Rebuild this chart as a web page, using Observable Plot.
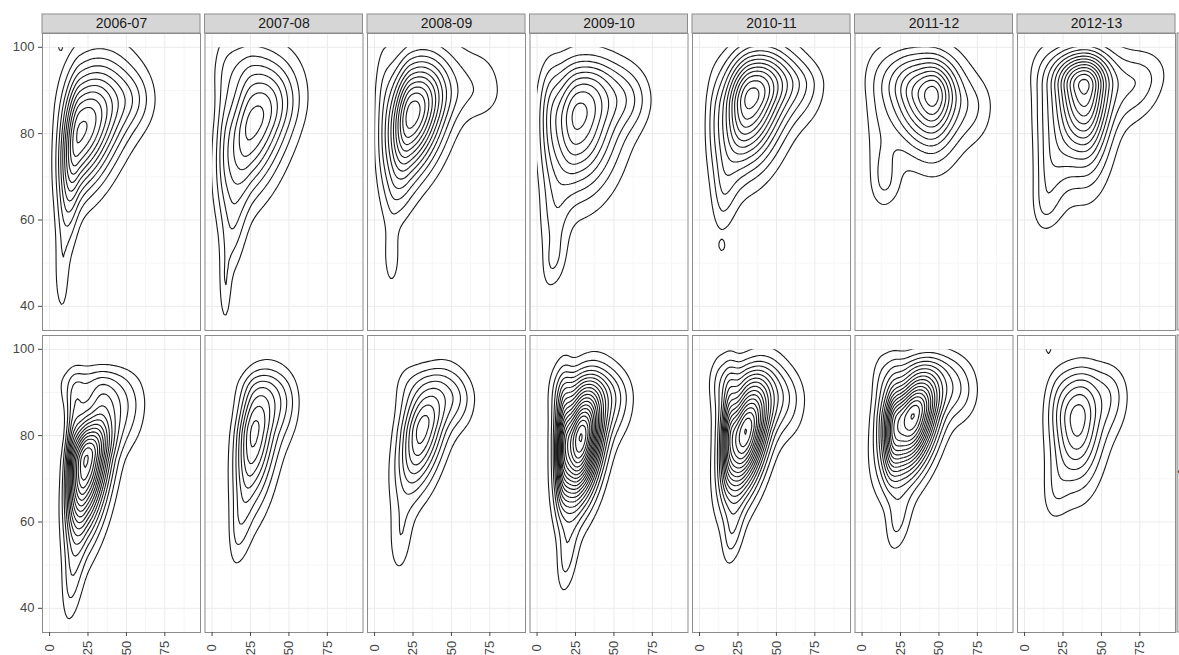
<!DOCTYPE html>
<html>
<head>
<meta charset="utf-8">
<script src="https://cdn.jsdelivr.net/npm/d3@7"></script>
<script src="https://cdn.jsdelivr.net/npm/@observablehq/plot@0.6"></script>
<style>
  html, body { margin: 0; padding: 0; background: #ffffff; }
  svg { display: block; }
</style>
</head>
<body>
<script>
// ---- categories and ticks ----
const years = ["2006-07", "2007-08", "2008-09", "2009-10", "2010-11", "2011-12", "2012-13"];
const rows = ["Girls", "Boys"];
const xTicks = [0, 25, 50, 75];
const yTicks = [40, 60, 80, 100];
const xMinor = [12.5, 37.5, 62.5, 87.5];
const yMinor = [50, 70, 90];
const levels = d3.range(1, 31);          // contour levels (shared by all panels)
const xDataMin = 0, yDataMax = 100;      // extent of the estimated density surface

// ---- density components ----
// [centre x, centre y, spread left, spread right, spread down, spread up, tilt, height]
const t0607 = [[19, 79, 8, 16, 9, 9.5, 0.3, 10], [36, 88, 17, 17, 7, 8, 0, 3.2], [55, 88, 9, 9, 4.5, 4.5, 0, 1.3], [12, 63, 5, 5, 9, 9, 0.3, 2.5], [8, 46, 3, 3, 6, 6, 0, 1.4], [7, 100.3, 1.3, 1.3, 1, 1, 0, 1.2]];
const t0708 = [[25, 81, 12, 17, 11, 9, 0.4, 8], [20, 95, 12, 14, 6, 6, 0, 2.3], [42, 88, 12, 12, 6, 6, 0, 1.2], [14, 58, 5, 6, 8, 8, 0.3, 1.8], [8.5, 44, 2.5, 2.5, 6, 6, 0, 1.5], [8, 78, 4, 5, 16, 14, 0, 1.3]];
const t0809 = [[23, 83, 9.5, 15, 9, 8, 0.3, 11.7], [30, 92, 15, 15, 6, 7, 0, 2.8], [68, 90, 14, 12, 5, 7, 0, 1.6], [14, 66, 5, 8, 6, 6, 0.2, 1.5], [11, 51, 3.5, 4, 5, 5, 0, 1.5], [6, 84, 4, 5, 14, 12, 0, 1.2]];
const t0910 = [[26, 83, 12, 18, 11, 8, 0.1, 9], [35, 92, 15, 14, 5, 4, 0, 2], [60, 88, 10, 10, 5, 5, 0, 2], [12, 60, 7, 6, 9, 8, 0.2, 1.8], [10, 50, 4, 6, 4, 4, 0.3, 1.2], [8, 85, 5, 5, 12, 8, 0, 1.8]];
const t1011 = [[32, 87, 12, 16, 10, 7, 0.25, 11.5], [40, 94, 16, 16, 5, 5, 0, 2.5], [66, 91, 12, 11, 6, 4, 0, 2], [16, 67, 5, 6, 7, 7, 0.2, 2], [14.5, 54, 1.5, 1.5, 1, 1, 0, 1.3], [10, 82, 4, 5, 10, 8, 0, 1]];
const t1112 = [[40, 88, 16, 13, 8.8, 6, -0.2, 8], [50, 90, 7, 10, 6, 5, 0, 3.5], [40, 95, 22, 20, 5, 5, 0, 1.5], [72, 86, 10, 10, 6, 5, 0, 1.8], [15, 69, 6, 7, 4, 6, 0, 1.8], [10, 82, 6, 8, 12, 10, 0, 1]];
const t1213 = [[38.7, 90.6, 14, 11, 12, 5, 0, 12.5], [40, 96, 20, 20, 4, 4, 0, 2], [72, 91, 14, 13, 6, 5, 0.3, 2.6], [17, 71, 7, 9, 8, 7, 0.3, 2], [13, 63, 5, 7, 3.5, 4, 0, 0.9], [12, 82, 5, 8, 10, 10, 0, 1.2]];

const b0607 = [[24, 74.5, 7.5, 11, 12, 7, 0.4, 16], [15, 76, 3, 4, 10, 9, 0.2, 3], [17, 88, 5, 5, 5, 4, 0, 1.4], [35, 88, 6, 7, 5, 4, 0, 1.6], [30, 92, 16, 16, 4, 3, 0, 2.2], [50, 86, 8, 9, 6, 5, 0, 2], [14, 46, 4, 5, 7, 7, 0.3, 1.8]];
const b0708 = [[27, 80.5, 8, 11, 12, 8, 0.35, 8.3], [32, 91, 11, 11, 4, 3, 0, 1.5], [48, 87, 7, 7, 6, 5, 0, 1.5], [17, 58, 4, 5, 6, 6, 0.3, 1.5]];
const b0809 = [[31, 81.3, 10.5, 12, 10, 7.5, 0.5, 8.3], [38, 92, 12, 12, 4, 3, 0, 1.2], [55, 88, 7, 8, 5, 4, 0, 1.8], [17, 56, 5, 5, 6, 6, 0.2, 1.6], [22, 90, 7, 8, 6, 5, 0, 1.2]];
const b0910 = [[28.5, 79.5, 8.5, 10, 10, 8, 0.35, 20], [17, 78, 3, 3.5, 9, 9, 0.2, 5], [33, 91, 12, 13, 4, 3.5, 0, 2], [52, 88, 7, 8, 6, 5, 0, 2], [19, 52, 4, 5, 6, 6, 0.3, 2.2], [15, 88, 5, 6, 8, 6, 0, 2.5]];
const b1011 = [[30, 81, 9.5, 11, 10, 8, 0.45, 17], [19, 82, 3, 3.5, 8, 8, 0.2, 4], [30, 93, 13, 14, 4, 3.5, 0, 2], [56, 88, 8, 9, 6, 5, 0, 2.4], [21, 57, 4, 5, 5, 5, 0.3, 2], [14, 90, 5, 6, 8, 6, 0, 2]];
const b1112 = [[33, 84.5, 12, 12, 9, 6.5, 0.4, 17], [20, 82, 3.5, 4, 8, 8, 0.2, 3.5], [38, 95, 15, 16, 4, 3, 0, 2], [63, 90, 8, 9, 5, 5, 0, 2.2], [23, 60, 5, 6, 5, 5, 0.3, 2], [14, 90, 5, 6, 8, 6, 0, 2]];
const b1213 = [[35, 83.5, 11, 11, 10, 7, 0.1, 7.4], [38, 92, 12, 12, 4, 3, 0, 1], [57, 89, 7, 8, 6, 5, 0, 1.8], [20, 67, 6, 6, 5, 6, 0.2, 1.3], [22, 88, 6, 6, 6, 5, 0, 1], [15.5, 100.3, 1.5, 1.5, 1.2, 1.2, 0, 1.5]];

const topRow = [t0607, t0708, t0809, t0910, t1011, t1112, t1213];
const bottomRow = [b0607, b0708, b0809, b0910, b1011, b1112, b1213];

// ---- density surface sampled on a grid (table for Plot.contour) ----
function density(comps, x, y) {
  let s = 0;
  for (const [cx, cy, sl, sr, sd, su, r, a] of comps) {
    const u = (x - cx) / (x < cx ? sl : sr);
    const v = (y - cy) / (y < cy ? sd : su);
    s += a * Math.exp(-0.5 * (u * u - 2 * r * u * v + v * v) / (1 - r * r));
  }
  return s;
}
const gx = d3.range(-6, 100.01, 1.2);
const gy = d3.range(33, 105.01, 0.6);
const grid = [];
rows.forEach((row, ri) => {
  years.forEach((year, yi) => {
    const comps = (ri === 0 ? topRow : bottomRow)[yi];
    for (const x of gx) for (const y of gy) grid.push({year, row, x, y, v: density(comps, x, y)});
  });
});

const topStrips = years.map((year) => ({year, row: rows[0]}));
const sideStrips = rows.map((row) => ({year: years[years.length - 1], row}));

const panelW = 158, panelH = 297;
const grey = "#8c8c8c";

const plot = Plot.plot({
  width: 1179,
  height: 655,
  marginLeft: 42,
  marginRight: 4,
  marginTop: 33,
  marginBottom: 23,
  style: {fontFamily: '"Liberation Sans", Arial, Helvetica, sans-serif', fontSize: "13px", background: "#ffffff", color: "#1a1a1a"},
  fx: {domain: years, paddingInner: 4.5 / 162.5, paddingOuter: 0, round: false, axis: null, label: null},
  fy: {domain: rows, paddingInner: 5 / 302, paddingOuter: 0, round: false, axis: null, label: null},
  x: {domain: [-4.6, 98.2], label: null},
  y: {domain: [34.4, 103.2], label: null},
  marks: [
    Plot.gridX(xMinor, {stroke: "#f6f6f6", strokeOpacity: 1}),
    Plot.gridY(yMinor, {stroke: "#f6f6f6", strokeOpacity: 1}),
    Plot.gridX(xTicks, {stroke: "#ebebeb", strokeOpacity: 1}),
    Plot.gridY(yTicks, {stroke: "#ebebeb", strokeOpacity: 1}),
    Plot.contour(grid, {
      x: "x", y: "y", value: "v", fx: "year", fy: "row",
      thresholds: levels, interpolate: "barycentric",
      stroke: "#1a1a1a", strokeWidth: 1.1, fill: "none"
    }),
    Plot.frame({stroke: grey}),
    Plot.rect(topStrips, {fx: "year", fy: "row", fill: "#d6d6d6", stroke: grey, insetTop: -19, insetBottom: panelH}),
    Plot.text(topStrips, {fx: "year", fy: "row", text: "year", frameAnchor: "top", dy: -9.5, lineAnchor: "middle", fontSize: 14, fill: "#1a1a1a"}),
    Plot.rect(sideStrips, {fx: "year", fy: "row", fill: "#d6d6d6", stroke: grey, insetLeft: panelW + 2, insetRight: -22}),
    Plot.text(sideStrips, {fx: "year", fy: "row", text: "row", frameAnchor: "right", dx: 10, rotate: 90, lineAnchor: "middle", fontSize: 14, fill: "#1a1a1a"}),
    Plot.axisY(yTicks, {tickSize: 4, tickPadding: 4, color: "#474747", fontSize: 13, label: null}),
    Plot.axisX(xTicks, {tickSize: 4, tickPadding: 11.5, tickRotate: -90, textAnchor: "middle", lineAnchor: "middle", color: "#474747", fontSize: 13, label: null})
  ]
});

// clip the contour lines to the extent of the estimated surface (as in the original)
try {
  const sx = plot.scale("x"), sy = plot.scale("y");
  const ns = "http://www.w3.org/2000/svg";
  const defs = document.createElementNS(ns, "defs");
  const cp = document.createElementNS(ns, "clipPath");
  cp.setAttribute("id", "surface-clip");
  cp.setAttribute("clipPathUnits", "userSpaceOnUse");
  const r = document.createElementNS(ns, "rect");
  const x0 = sx.apply(xDataMin), x1 = sx.apply(sx.domain[1]);
  const y0 = sy.apply(yDataMax), y1 = sy.apply(sy.domain[0]);
  r.setAttribute("x", Math.min(x0, x1));
  r.setAttribute("y", Math.min(y0, y1));
  r.setAttribute("width", Math.abs(x1 - x0));
  r.setAttribute("height", Math.abs(y1 - y0));
  cp.appendChild(r);
  defs.appendChild(cp);
  plot.insertBefore(defs, plot.firstChild);
  plot.querySelectorAll('g[aria-label="contour"] path').forEach((p) => p.setAttribute("clip-path", "url(#surface-clip)"));
} catch (e) { console.error(e); }

document.body.appendChild(plot);
</script>
</body>
</html>
